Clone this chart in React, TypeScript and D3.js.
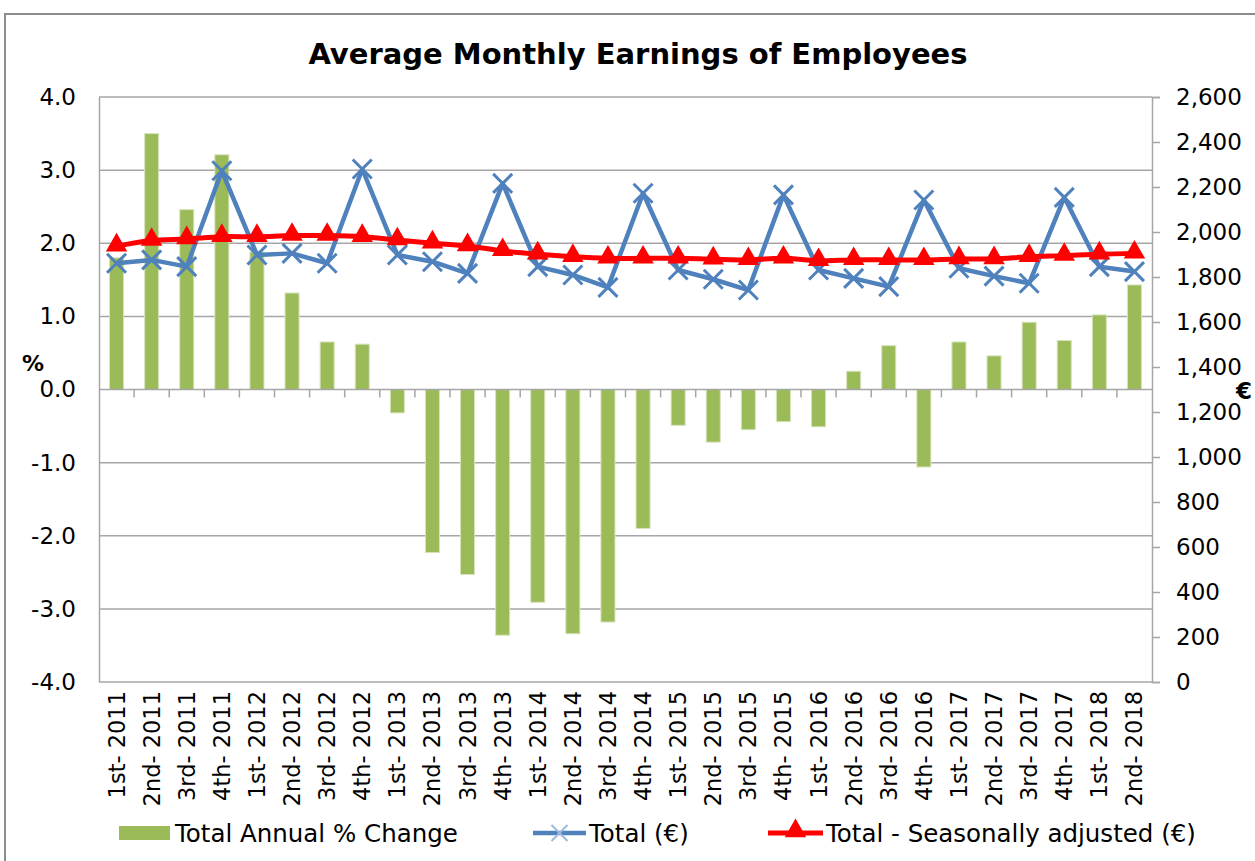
import React, { useRef, useEffect } from 'react'
import * as d3 from 'd3'

const quarters = [
  '1st- 2011', '2nd- 2011', '3rd- 2011', '4th- 2011',
  '1st- 2012', '2nd- 2012', '3rd- 2012', '4th- 2012',
  '1st- 2013', '2nd- 2013', '3rd- 2013', '4th- 2013',
  '1st- 2014', '2nd- 2014', '3rd- 2014', '4th- 2014',
  '1st- 2015', '2nd- 2015', '3rd- 2015', '4th- 2015',
  '1st- 2016', '2nd- 2016', '3rd- 2016', '4th- 2016',
  '1st- 2017', '2nd- 2017', '3rd- 2017', '4th- 2017',
  '1st- 2018', '2nd- 2018',
]
// Total Annual % Change (left axis)
const pctChange = [1.8, 3.5, 2.46, 3.21, 1.88, 1.32, 0.65, 0.62, -0.32, -2.23, -2.53, -3.36, -2.91, -3.34, -3.18, -1.9,
  -0.49, -0.72, -0.55, -0.44, -0.51, 0.25, 0.6, -1.06, 0.65, 0.46, 0.92, 0.67, 1.02, 1.43]
// Total (€) (right axis)
const totalEur = [1861, 1876, 1846, 2272, 1898, 1905, 1861, 2280, 1898, 1868, 1816, 2216, 1846, 1809, 1754, 2172,
  1831, 1790, 1742, 2165, 1831, 1794, 1757, 2142, 1839, 1804, 1772, 2154, 1846, 1824]
// Total - Seasonally adjusted (€)
const seasonalEur = [1937, 1962, 1969, 1979, 1979, 1984, 1984, 1979, 1964, 1950, 1938, 1916, 1901, 1890, 1883, 1883,
  1883, 1879, 1876, 1883, 1872, 1876, 1876, 1876, 1880, 1880, 1890, 1895, 1901, 1905]
const leftTicks = [-4, -3, -2, -1, 0, 1, 2, 3, 4]
const rightTicks = [0, 200, 400, 600, 800, 1000, 1200, 1400, 1600, 1800, 2000, 2200, 2400, 2600]

const W = 1255, H = 861
const font = 'Verdana, "DejaVu Sans", sans-serif'
const green = '#9BBB59', blue = '#4F81BD', red = '#FF0000', grid = '#A6A6A6'

function xMark(x: number, y: number, r: number) {
  return `M${x - r},${y - r}L${x + r},${y + r}M${x - r},${y + r}L${x + r},${y - r}`
}

export default function App() {
  const ref = useRef<SVGSVGElement>(null)

  useEffect(() => {
    const svg = d3.select(ref.current)
    svg.selectAll('*').remove()

    const left = 99, right = 1152, top = 97, bottom = 682
    const x = d3.scaleBand().domain(quarters).range([left, right]).paddingInner(0.6).paddingOuter(0.3)
    const yL = d3.scaleLinear().domain([-4, 4]).range([bottom, top])
    const yR = d3.scaleLinear().domain([0, 2600]).range([bottom, top])
    const cx = (q: string) => (x(q) as number) + x.bandwidth() / 2

    // outer frame
    svg.append('rect').attr('x', 5).attr('y', 14).attr('width', W + 10).attr('height', H + 10)
      .attr('fill', 'white').attr('stroke', '#8C8C8C').attr('stroke-width', 2)

    svg.append('text').attr('x', 638).attr('y', 64).attr('text-anchor', 'middle')
      .attr('font-family', font).attr('font-weight', 'bold').attr('font-size', 29)
      .text('Average Monthly Earnings of Employees')

    // gridlines
    svg.append('g').selectAll('line').data(leftTicks.filter(d => d !== 0)).join('line')
      .attr('x1', left).attr('x2', right).attr('y1', d => yL(d)).attr('y2', d => yL(d))
      .attr('stroke', grid).attr('stroke-width', 1.5)

    // left axis
    const fmtL = (d: d3.NumberValue) => d3.format('.1f')(d).replace('−', '-')
    const gl = svg.append('g').attr('transform', `translate(${left},0)`)
      .call(d3.axisLeft(yL).tickValues(leftTicks).tickFormat(fmtL).tickSize(0).tickPadding(23))
    gl.select('.domain').attr('stroke', grid).attr('stroke-width', 1.5)
    gl.selectAll('text').attr('font-family', font).attr('font-size', 23).attr('fill', '#000')

    // right axis
    const gr = svg.append('g').attr('transform', `translate(${right},0)`)
      .call(d3.axisRight(yR).tickValues(rightTicks).tickFormat(d3.format(',')).tickSize(8).tickPadding(16))
    gr.select('.domain').attr('stroke', grid).attr('stroke-width', 1.5)
    gr.selectAll('line').attr('stroke', grid).attr('stroke-width', 1.5)
    gr.selectAll('text').attr('font-family', font).attr('font-size', 23).attr('fill', '#000')

    svg.append('text').attr('x', 22).attr('y', 371).attr('font-family', font).attr('font-weight', 'bold')
      .attr('font-size', 22).text('%')
    svg.append('text').attr('x', 1236).attr('y', 399).attr('font-family', font).attr('font-weight', 'bold')
      .attr('font-size', 23).text('€')

    // bars
    svg.append('g').selectAll('rect').data(pctChange).join('rect')
      .attr('x', (d, i) => x(quarters[i]) as number)
      .attr('width', x.bandwidth())
      .attr('y', d => yL(Math.max(0, d)))
      .attr('height', d => Math.abs(yL(d) - yL(0)))
      .attr('fill', green).attr('stroke', '#D7E4BD').attr('stroke-width', 1)

    // zero axis with category ticks
    svg.append('line').attr('x1', left).attr('x2', right).attr('y1', yL(0)).attr('y2', yL(0))
      .attr('stroke', grid).attr('stroke-width', 1.5)
    const step = x.step()
    svg.append('g').selectAll('line').data(quarters.slice(1)).join('line')
      .attr('x1', d => cx(d) - step / 2).attr('x2', d => cx(d) - step / 2)
      .attr('y1', yL(0)).attr('y2', yL(0) + 8)
      .attr('stroke', grid).attr('stroke-width', 1.5)

    // category labels along the bottom
    svg.append('g').selectAll('text').data(quarters).join('text')
      .attr('transform', d => `translate(${cx(d) + 8},${bottom + 9}) rotate(-90)`)
      .attr('text-anchor', 'end').attr('font-family', font).attr('font-size', 22.5)
      .text(d => d)

    // Total line
    const lineT = d3.line<number>().x((d, i) => cx(quarters[i])).y(d => yR(d))
    svg.append('path').attr('d', lineT(totalEur)).attr('fill', 'none')
      .attr('stroke', blue).attr('stroke-width', 4.5).attr('stroke-linejoin', 'round')
    svg.append('g').selectAll('path').data(totalEur).join('path')
      .attr('d', (d, i) => xMark(cx(quarters[i]), yR(d), 9.5))
      .attr('stroke', blue).attr('stroke-width', 3)

    // Seasonally adjusted
    const lineS = d3.line<number>().x((d, i) => cx(quarters[i])).y(d => yR(d)).curve(d3.curveCatmullRom.alpha(0.5))
    svg.append('path').attr('d', lineS(seasonalEur)).attr('fill', 'none')
      .attr('stroke', red).attr('stroke-width', 5).attr('stroke-linejoin', 'round')
    const tri = d3.symbol().type(d3.symbolTriangle).size(200)
    svg.append('g').selectAll('path').data(seasonalEur).join('path')
      .attr('transform', (d, i) => `translate(${cx(quarters[i])},${yR(d) - 1})`)
      .attr('d', tri() as string).attr('fill', red)

    // legend
    const ly = 833
    const lg = svg.append('g').attr('font-family', font).attr('font-size', 24.5)
    lg.append('rect').attr('x', 119).attr('y', ly - 7).attr('width', 51).attr('height', 14).attr('fill', green)
    lg.append('text').attr('x', 175).attr('y', ly + 9).text('Total Annual % Change')
    lg.append('line').attr('x1', 533).attr('x2', 586).attr('y1', ly).attr('y2', ly).attr('stroke', blue).attr('stroke-width', 4.5)
    lg.append('path').attr('d', xMark(559.5, ly, 8)).attr('stroke', '#9DB9DD').attr('stroke-width', 2)
    lg.append('text').attr('x', 589).attr('y', ly + 9).text('Total (€)')
    lg.append('line').attr('x1', 768).attr('x2', 823).attr('y1', ly).attr('y2', ly).attr('stroke', red).attr('stroke-width', 5)
    lg.append('path').attr('transform', `translate(795.5,${ly - 2})`).attr('d', tri() as string).attr('fill', red)
    lg.append('text').attr('x', 826).attr('y', ly + 9).text('Total - Seasonally adjusted (€)')
  }, [])

  return (
    <svg ref={ref} width={W} height={H} style={{ position: 'absolute', left: 0, top: 0, background: 'white' }} />
  )
}
